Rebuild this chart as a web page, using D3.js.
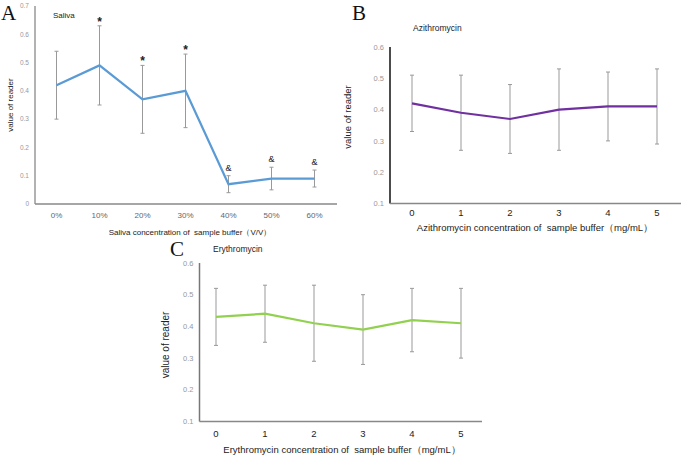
<!DOCTYPE html>
<html><head><meta charset="utf-8">
<script src="https://cdn.jsdelivr.net/npm/d3@7"></script>
<style>body{margin:0;background:#fff}svg{display:block}text{font-family:"Liberation Sans",Arial,sans-serif;white-space:pre}</style>
</head><body>
<svg id="c" width="685" height="456"></svg>
<script>
// Panel A: Saliva
const catsA = ["0%","10%","20%","30%","40%","50%","60%"];
const valsA = [0.42,0.49,0.37,0.40,0.07,0.09,0.09];
const lowA  = [0.30,0.35,0.25,0.27,0.04,0.05,0.06];
const highA = [0.54,0.63,0.49,0.53,0.10,0.13,0.12];
const marksA = ["","*","*","*","&","&","&"];
const ticksA = [0,0.1,0.2,0.3,0.4,0.5,0.6,0.7];
// Panel B: Azithromycin
const catsB = [0,1,2,3,4,5];
const valsB = [0.42,0.39,0.37,0.40,0.41,0.41];
const lowB  = [0.33,0.27,0.26,0.27,0.30,0.29];
const highB = [0.51,0.51,0.48,0.53,0.52,0.53];
const ticksB = [0.1,0.2,0.3,0.4,0.5,0.6];
// Panel C: Erythromycin
const catsC = [0,1,2,3,4,5];
const valsC = [0.43,0.44,0.41,0.39,0.42,0.41];
const lowC  = [0.34,0.35,0.29,0.28,0.32,0.30];
const highC = [0.52,0.53,0.53,0.50,0.52,0.52];
const ticksC = [0.1,0.2,0.3,0.4,0.5,0.6];

const svg = d3.select("#c");

function panel(o){
  const g = svg.append("g");
  const x = o.x, y = o.y;
  g.append("line").attr("x1",o.ax).attr("x2",o.ax).attr("y1",o.yTop).attr("y2",o.yBot)
    .attr("stroke",o.axisColor).attr("stroke-width",1.5);
  g.append("line").attr("x1",o.ax).attr("x2",o.xEnd).attr("y1",o.yBot).attr("y2",o.yBot)
    .attr("stroke","#888").attr("stroke-width",1.5);
  g.selectAll(".yt").data(o.ticks).enter().append("text")
    .attr("x",o.ax-6).attr("y",d=>y(d)).attr("dy","0.35em").attr("text-anchor","end")
    .attr("font-size",o.ytfs).attr("fill","#999").text(d=>String(+d.toFixed(1)));
  g.selectAll(".xt").data(o.cats).enter().append("text")
    .attr("x",d=>x(d)).attr("y",o.xtY).attr("dy","0.35em").attr("text-anchor","middle")
    .attr("font-size",o.xtfs).attr("fill",o.xtColor).text(d=>d);
  const eb = g.selectAll(".eb").data(o.cats).enter().append("g");
  eb.append("line").attr("x1",d=>x(d)).attr("x2",d=>x(d))
    .attr("y1",(d,i)=>y(o.low[i])).attr("y2",(d,i)=>y(o.high[i])).attr("stroke","#999").attr("stroke-width",1);
  eb.append("line").attr("x1",d=>x(d)-2).attr("x2",d=>x(d)+2)
    .attr("y1",(d,i)=>y(o.low[i])).attr("y2",(d,i)=>y(o.low[i])).attr("stroke","#999").attr("stroke-width",1);
  eb.append("line").attr("x1",d=>x(d)-2).attr("x2",d=>x(d)+2)
    .attr("y1",(d,i)=>y(o.high[i])).attr("y2",(d,i)=>y(o.high[i])).attr("stroke","#999").attr("stroke-width",1);
  const line = d3.line().x((d,i)=>x(o.cats[i])).y(d=>y(d));
  g.append("path").datum(o.vals).attr("d",line).attr("fill","none")
    .attr("stroke",o.color).attr("stroke-width",2.2);
  g.append("text").attr("x",o.letterX).attr("y",o.letterY).attr("font-size",21)
    .style("font-family","'Liberation Serif','Times New Roman',serif").attr("fill","#111").text(o.letter);
  g.append("text").attr("x",o.titleX).attr("y",o.titleY).attr("dy","0.35em")
    .attr("font-size",o.titleFs).attr("fill","#222").text(o.title);
  g.append("text").attr("transform",`translate(${o.ytX},${o.ytY}) rotate(-90)`).attr("dy","0.35em")
    .attr("text-anchor","middle").attr("font-size",o.ytitleFs).attr("fill","#222").text("value of reader");
  g.append("text").attr("x",o.xtitleX).attr("y",o.xtitleY).attr("dy","0.35em").attr("text-anchor","middle")
    .attr("font-size",o.xtitleFs).attr("fill","#222").text(o.xtitle);
  return g;
}

// A
const xA = d3.scaleBand().domain(catsA).range([35,336]);
const xAc = d => xA(d) + xA.bandwidth()/2;
const yA = d3.scaleLinear().domain([0,0.7]).range([204,6]);
const gA = panel({x:xAc,y:yA,cats:catsA,vals:valsA,low:lowA,high:highA,ticks:ticksA,
  ax:35,yTop:6,yBot:204,xEnd:337,axisColor:"#999",ytfs:6.5,xtfs:8,xtY:215,xtColor:"#666",
  color:"#5b9bd5",letter:"A",letterX:1,letterY:20,title:"Saliva",titleX:53,titleY:15,titleFs:8,
  ytX:10,ytY:105,ytitleFs:8,xtitle:"Saliva concentration of  sample buffer（V/V）",xtitleX:190,xtitleY:232,xtitleFs:8});
gA.selectAll(".mk").data(catsA).enter().append("text")
  .attr("x",d=>xAc(d)).attr("y",(d,i)=>yA(highA[i]) - (marksA[i]==="*"?0:5))
  .attr("text-anchor","middle").attr("font-size",(d,i)=>marksA[i]==="*"?12:9)
  .attr("font-weight",(d,i)=>marksA[i]==="*"?"bold":"normal").attr("fill","#222").text((d,i)=>marksA[i]);

// B
const xB = d3.scaleLinear().domain([0,5]).range([412,657]);
const yB = d3.scaleLinear().domain([0.1,0.6]).range([203.5,47]);
panel({x:xB,y:yB,cats:catsB,vals:valsB,low:lowB,high:highB,ticks:ticksB,
  ax:390,yTop:47,yBot:203.5,xEnd:681,axisColor:"#111",ytfs:7.5,xtfs:9.5,xtY:213,xtColor:"#222",
  color:"#7030a0",letter:"B",letterX:352,letterY:20,title:"Azithromycin",titleX:413,titleY:28,titleFs:8.5,
  ytX:348,ytY:117,ytitleFs:9.5,xtitle:"Azithromycin concentration of  sample buffer（mg/mL）",xtitleX:535,xtitleY:228,xtitleFs:9.5});

// C
const xC = d3.scaleLinear().domain([0,5]).range([216,461]);
const yC = d3.scaleLinear().domain([0.1,0.6]).range([421.5,263]);
panel({x:xC,y:yC,cats:catsC,vals:valsC,low:lowC,high:highC,ticks:ticksC,
  ax:199.5,yTop:263,yBot:421.5,xEnd:482,axisColor:"#777",ytfs:7.5,xtfs:9.5,xtY:434,xtColor:"#222",
  color:"#92d050",letter:"C",letterX:170,letterY:256,title:"Erythromycin",titleX:213,titleY:249,titleFs:8.5,
  ytX:165,ytY:345,ytitleFs:10,xtitle:"Erythromycin concentration of  sample buffer（mg/mL）",xtitleX:342,xtitleY:450,xtitleFs:9.5});
</script>
</body></html>
